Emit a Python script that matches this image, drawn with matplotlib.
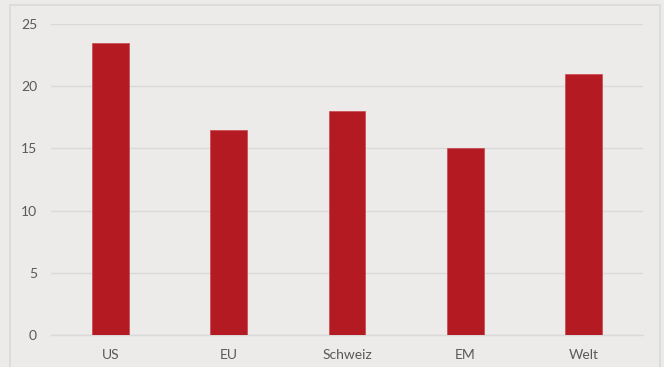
import numpy as np
import matplotlib.pyplot as plt
from matplotlib.patches import Rectangle

categories = ['US', 'EU', 'Schweiz', 'EM', 'Welt']
values = [23.5, 16.5, 18, 15, 21]
yticks = [0, 5, 10, 15, 20, 25]

bg = '#EDEBE9'
bar_color = '#B31A21'
text_color = '#595959'
grid_color = '#D9D9D9'

plt.rcParams['font.family'] = ['Lato', 'DejaVu Sans']

fig = plt.figure(figsize=(6.64, 3.67), dpi=100, facecolor=bg)
ax = fig.add_axes([51/664, 1 - 335/367, (643 - 51)/664, (335 - 24)/367])
ax.set_facecolor(bg)

# outer chart border
fig.patches.append(Rectangle((10/664, -0.05), (660 - 10)/664, 1.05 - 5/367,
                             transform=fig.transFigure, fill=False,
                             edgecolor='#D9D9D9', lw=1.2))

x = np.arange(len(categories))
ax.bar(x, values, width=0.31, color=bar_color, edgecolor='#C8474D',
       linewidth=0.5, zorder=3)

ax.set_xlim(-0.5, len(categories) - 0.5)
ax.set_ylim(0, 25)
ax.set_yticks(yticks)
ax.set_xticks(x)
ax.set_xticklabels(categories)
ax.yaxis.grid(True, color=grid_color, lw=1, zorder=0)
ax.tick_params(axis='both', length=0, colors=text_color, labelsize=10)
ax.tick_params(axis='y', pad=10)
ax.tick_params(axis='x', pad=10)

for s in ['top', 'right', 'left']:
    ax.spines[s].set_visible(False)
ax.spines['bottom'].set_color(grid_color)
ax.spines['bottom'].set_linewidth(1)

fig.savefig('out.png', dpi=100, facecolor=bg)
